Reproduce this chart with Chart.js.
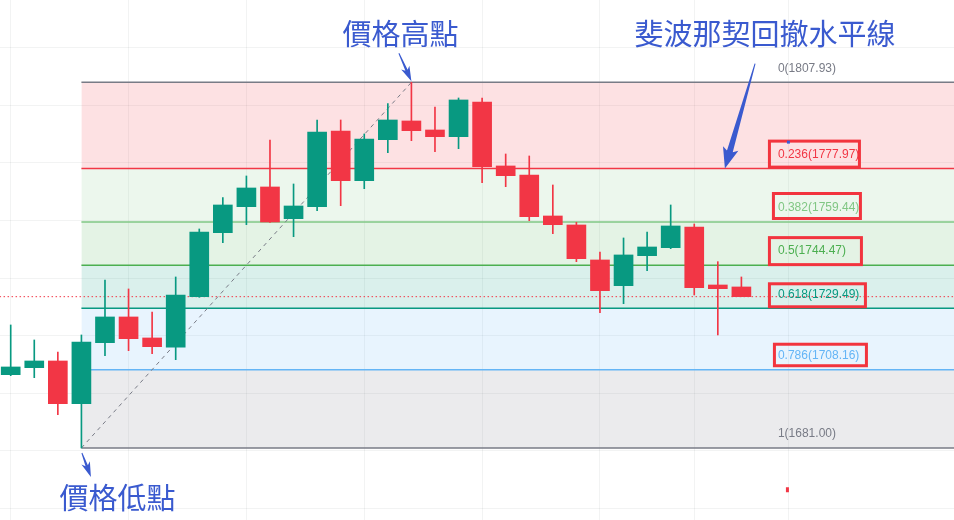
<!DOCTYPE html>
<html>
<head>
<meta charset="utf-8">
<script src="https://cdn.jsdelivr.net/npm/chart.js"></script>
<style>
  html, body { margin: 0; padding: 0; background: #fff; }
  #wrap { width: 954px; height: 520px; position: relative; }
</style>
</head>
<body>
<div id="wrap"><canvas id="chart"></canvas></div>
<script>
// candles (one per index)
const opens  = [1706.45, 1708.88, 1711.20, 1696.38, 1717.55, 1726.48, 1719.19, 1715.96, 1733.52, 1755.74,
                1764.76, 1771.60, 1760.60, 1764.76, 1791.04, 1773.79, 1788.02, 1794.51, 1791.38, 1789.06,
                1801.10, 1778.89, 1775.76, 1761.53, 1758.41, 1746.26, 1737.34, 1747.75, 1750.53, 1757.71,
                1737.58, 1736.89];
const highs  = [1723.70, 1718.49, 1714.33, 1720.23, 1739.32, 1736.20, 1728.21, 1740.36, 1757.02, 1767.88,
                1775.42, 1787.91, 1772.64, 1794.85, 1794.85, 1790.00, 1800.51, 1807.93, 1799.37, 1802.49,
                1802.49, 1783.05, 1782.36, 1772.29, 1759.35, 1749.04, 1753.90, 1755.98, 1765.35, 1758.76,
                1745.67, 1740.36];
const lows   = [1706.10, 1705.41, 1692.56, 1681.00, 1713.04, 1714.78, 1713.74, 1711.65, 1733.30, 1752.27,
                1758.51, 1759.30, 1754.35, 1763.37, 1765.11, 1771.01, 1783.50, 1787.67, 1783.85, 1784.89,
                1773.09, 1771.70, 1759.90, 1755.39, 1745.67, 1727.97, 1731.09, 1742.55, 1750.18, 1734.11,
                1720.23, 1733.50];
const closes = [1709.12, 1711.20, 1696.38, 1717.80, 1726.48, 1718.94, 1716.17, 1734.11, 1755.98, 1765.35,
                1771.25, 1759.45, 1765.00, 1790.69, 1773.79, 1788.26, 1794.85, 1791.14, 1789.06, 1801.80,
                1778.65, 1775.52, 1761.29, 1758.51, 1746.71, 1735.60, 1748.00, 1750.77, 1758.06, 1736.65,
                1736.30, 1733.52];

// fibonacci retracement levels
const fibRatios = [0, 0.236, 0.382, 0.5, 0.618, 0.786, 1];
const fibPrices = [1807.93, 1777.97, 1759.44, 1744.47, 1729.49, 1708.16, 1681.00];
const fibColors = ['#787B86', '#F23645', '#81C784', '#4CAF50', '#089981', '#64B5F6', '#787B86'];
const boxedLevels = [1, 2, 3, 4, 5];

// swing low / high the retracement is measured on
const swingLowIdx = 3;
const swingHighIdx = 17;

// grid positions
const gridX = [0, 5, 10, 15, 20, 25, 29, 33];
const gridY = [1660, 1680, 1700, 1720, 1740, 1760, 1780, 1800, 1820];

const upColor = '#089981';
const downColor = '#F23645';
const noteColor = '#3a5acf';

const candleColors = closes.map((c, i) => c >= opens[i] ? upColor : downColor);
const lastClose = closes[closes.length - 1];

function hexA(hex, a) {
  const n = parseInt(hex.slice(1), 16);
  return `rgba(${(n >> 16) & 255},${(n >> 8) & 255},${n & 255},${a})`;
}

// one line dataset per level, each filled up to the level above it
const fibSets = fibPrices.map((p, i) => ({
  type: 'line',
  data: [{ x: swingLowIdx, y: p }, { x: 45, y: p }],
  borderColor: fibColors[i],
  borderWidth: 1.5,
  pointRadius: 0,
  fill: i === 0 ? false : '-1',
  backgroundColor: hexA(fibColors[i], 0.15),
  order: 10
}));

function arrow(ctx, x1, y1, x2, y2, tailW, shaftW, headLen, headW) {
  const dx = x2 - x1, dy = y2 - y1;
  const len = Math.hypot(dx, dy);
  const ux = dx / len, uy = dy / len;
  const nx = -uy, ny = ux;
  const bx = x2 - ux * headLen, by = y2 - uy * headLen;
  ctx.beginPath();
  ctx.moveTo(x1 + nx * tailW / 2, y1 + ny * tailW / 2);
  ctx.lineTo(bx + nx * shaftW / 2, by + ny * shaftW / 2);
  ctx.lineTo(bx + nx * headW / 2 - ux * 3, by + ny * headW / 2 - uy * 3);
  ctx.lineTo(x2, y2);
  ctx.lineTo(bx - nx * headW / 2 - ux * 3, by - ny * headW / 2 - uy * 3);
  ctx.lineTo(bx - nx * shaftW / 2, by - ny * shaftW / 2);
  ctx.lineTo(x1 - nx * tailW / 2, y1 - ny * tailW / 2);
  ctx.closePath();
  ctx.fill();
}

const notesPlugin = {
  id: 'notes',
  afterDatasetsDraw(chart) {
    const ctx = chart.ctx;
    const xs = chart.scales.x, ys = chart.scales.y;
    const labelX = xs.getPixelForValue(32.55);
    ctx.save();

    // level labels
    ctx.font = '12px "Liberation Sans", Arial, sans-serif';
    ctx.textBaseline = 'middle';
    ctx.textAlign = 'left';
    fibPrices.forEach((p, i) => {
      ctx.fillStyle = fibColors[i];
      ctx.fillText(fibRatios[i] + '(' + p.toFixed(2) + ')', labelX, ys.getPixelForValue(p) - 14);
    });

    // red boxes round the labels
    const boxShift = [[-10, 83, -29, 0], [-6, 84, -30, -2], [-10, 85, -29, 1], [-10, 89, -26, 0], [-5, 90, -27, -2.5]];
    ctx.strokeStyle = '#F2343E';
    ctx.lineWidth = 3;
    boxedLevels.forEach((lv, k) => {
      const y = ys.getPixelForValue(fibPrices[lv]);
      const s = boxShift[k];
      ctx.strokeRect(labelX + s[0] + 1.5, y + s[2] + 1.5, s[1] - s[0] - 3, s[3] - s[2] - 3);
    });

    // small stray marks
    ctx.fillStyle = '#3a5bd9';
    ctx.fillRect(labelX + 9, ys.getPixelForValue(fibPrices[1]) - 28, 3, 3);
    ctx.fillStyle = '#F23645';
    ctx.fillRect(labelX + 8, ys.getPixelForValue(1666.5) - 2.5, 3, 5);

    // arrows
    ctx.fillStyle = noteColor;
    const hx = xs.getPixelForValue(swingHighIdx), hy = ys.getPixelForValue(highs[swingHighIdx]);
    arrow(ctx, hx - 12.5, hy - 29, hx, hy - 1, 1, 2.5, 12, 9);
    const lx = xs.getPixelForValue(swingLowIdx), ly = ys.getPixelForValue(lows[swingLowIdx]);
    arrow(ctx, lx + 0.5, ly + 5, lx + 9.5, ly + 29, 1, 2.5, 12, 9);
    const fy = ys.getPixelForValue(fibPrices[1]);
    arrow(ctx, xs.getPixelForValue(31.58), fy - 105, xs.getPixelForValue(30.3), fy, 1, 6, 18, 16);

    // captions
    ctx.font = '29px "Noto Sans CJK TC", sans-serif';
    ctx.textAlign = 'center';
    ctx.fillStyle = noteColor;
    ctx.fillText('價格高點', hx - 11, 34);
    ctx.fillText('斐波那契回撤水平線', 765, 34);
    ctx.fillText('價格低點', lx + 36, 498);
    ctx.restore();
  }
};

new Chart(document.getElementById('chart'), {
  type: 'bar',
  data: {
    datasets: [
      ...fibSets,
      {
        type: 'line',
        data: [{ x: swingLowIdx, y: lows[swingLowIdx] }, { x: swingHighIdx, y: highs[swingHighIdx] }],
        borderColor: '#787B86',
        borderWidth: 1,
        borderDash: [4, 4],
        pointRadius: 0,
        fill: false,
        order: 4
      },
      {
        type: 'line',
        data: [{ x: -2, y: lastClose }, { x: 45, y: lastClose }],
        borderColor: downColor,
        borderWidth: 1,
        borderDash: [1.5, 2.5],
        pointRadius: 0,
        fill: false,
        order: 3
      },
      {
        // wicks
        data: lows.map((l, i) => ({ x: i, y: [l, highs[i]] })),
        backgroundColor: candleColors,
        borderWidth: 0,
        barThickness: 1,
        grouped: false,
        order: 2
      },
      {
        // bodies
        data: opens.map((o, i) => ({ x: i, y: [Math.min(o, closes[i]), Math.max(o, closes[i])] })),
        backgroundColor: candleColors,
        borderWidth: 0,
        barThickness: 19,
        grouped: false,
        order: 1
      }
    ]
  },
  options: {
    responsive: true,
    maintainAspectRatio: false,
    animation: false,
    layout: { padding: 0 },
    plugins: { legend: { display: false }, tooltip: { enabled: false } },
    scales: {
      x: {
        type: 'linear',
        min: -0.454,
        max: 40.02,
        offset: false,
        ticks: { display: false },
        border: { display: false },
        grid: { color: 'rgba(42,46,57,0.06)', drawTicks: false, offset: false },
        afterBuildTicks: axis => { axis.ticks = gridX.map(v => ({ value: v })); }
      },
      y: {
        type: 'linear',
        min: 1656.0,
        max: 1836.5,
        ticks: { display: false },
        border: { display: false },
        grid: { color: 'rgba(42,46,57,0.06)', drawTicks: false },
        afterBuildTicks: axis => { axis.ticks = gridY.map(v => ({ value: v })); }
      }
    }
  },
  plugins: [notesPlugin]
});
</script>
</body>
</html>
